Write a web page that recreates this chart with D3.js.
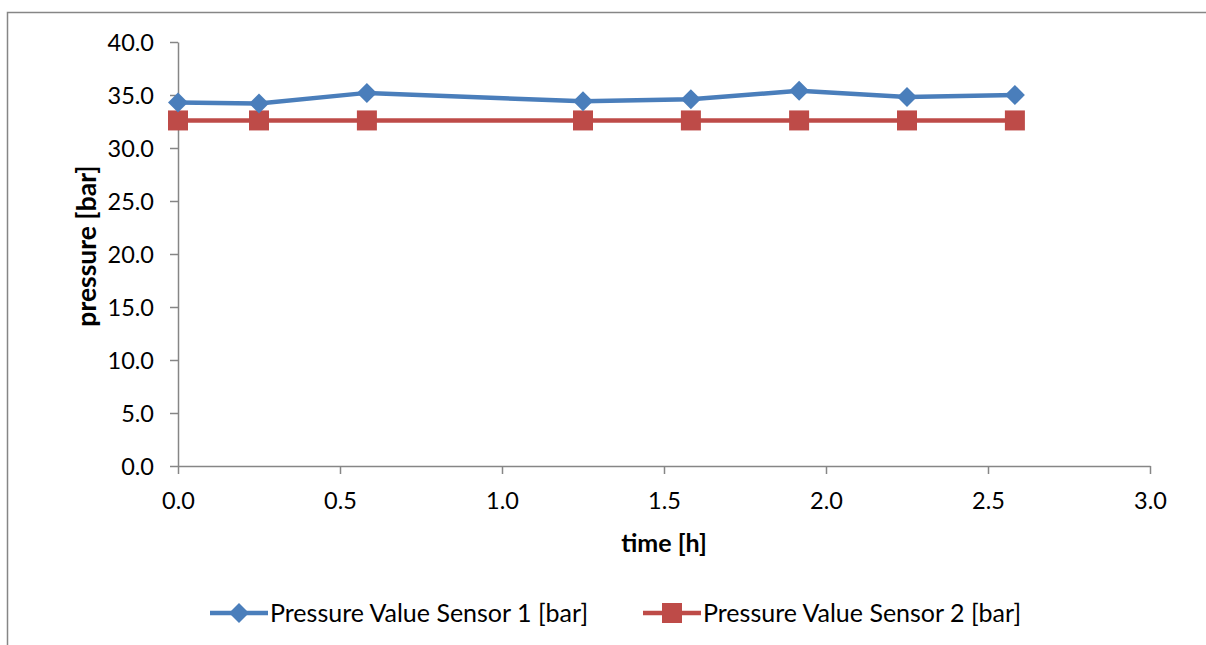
<!DOCTYPE html>
<html><head><meta charset="utf-8">
<script src="https://cdn.jsdelivr.net/npm/d3@7"></script>
<style>body{margin:0;background:#fff;} svg{display:block;font-family:Lato, "Open Sans", sans-serif;}</style>
</head><body>
<svg id="c" width="1206" height="645"></svg>
<script>
const times = [0, 0.25, 0.583, 1.25, 1.583, 1.917, 2.25, 2.583];
const sensor1 = [34.3, 34.2, 35.2, 34.4, 34.6, 35.4, 34.8, 35.0];
const sensor2 = [32.6, 32.6, 32.6, 32.6, 32.6, 32.6, 32.6, 32.6];
const seriesNames = ["Pressure Value Sensor 1 [bar]", "Pressure Value Sensor 2 [bar]"];
const xTicks = [0, 0.5, 1.0, 1.5, 2.0, 2.5, 3.0];
const yTicks = [0, 5, 10, 15, 20, 25, 30, 35, 40];
const xTitle = "time [h]";
const yTitle = "pressure [bar]";

const svg = d3.select("#c");
const axisCol = "#868686";
const blue = "#4A7EBB", red = "#BE4B48";

// outer frame
svg.append("path").attr("d","M7.5,645 V12.5 H1206").attr("fill","none").attr("stroke",axisCol).attr("stroke-width",1.5);

const x = d3.scaleLinear().domain([0,3]).range([178,1150]);
const y = d3.scaleLinear().domain([0,40]).range([466,42]);

const xa = svg.append("g").attr("transform","translate(0,466)")
  .call(d3.axisBottom(x).tickValues(xTicks).tickFormat(d3.format(".1f")).tickSize(8).tickSizeOuter(0));
const ya = svg.append("g").attr("transform","translate(178,0)")
  .call(d3.axisLeft(y).tickValues(yTicks).tickFormat(d3.format(".1f")).tickSize(8).tickSizeOuter(0));
[xa,ya].forEach(g=>{
  g.selectAll("path,line").attr("stroke",axisCol).attr("stroke-width",1.5);
  g.selectAll("text").attr("fill","#000").style("font-size","23.5px").style("font-family","Lato, sans-serif");
});
xa.selectAll("text").attr("y",26).attr("dy","0.71em");
ya.selectAll("text").attr("x",-24).attr("dy","0.36em");

svg.append("text").attr("x",664).attr("y",552).attr("text-anchor","middle")
  .style("font-size","25px").style("font-weight","bold").text(xTitle);
svg.append("text").attr("transform","translate(96,246) rotate(-90)").attr("text-anchor","middle")
  .style("font-size","26.5px").style("font-weight","bold").text(yTitle);

const line = d3.line().x(d=>x(d[0])).y(d=>y(d[1]));
const d1 = times.map((t,i)=>[t,sensor1[i]]);
const d2 = times.map((t,i)=>[t,sensor2[i]]);
const diamond = d3.symbol().type(d3.symbolSquare).size(200);

svg.append("path").datum(d2).attr("d",line).attr("fill","none").attr("stroke",red).attr("stroke-width",4.5);
svg.selectAll(".sq").data(d2).join("rect").attr("x",d=>x(d[0])-10).attr("y",d=>y(d[1])-10)
  .attr("width",20).attr("height",20).attr("fill",red);
svg.append("path").datum(d1).attr("d",line).attr("fill","none").attr("stroke",blue).attr("stroke-width",4.5);
svg.selectAll(".dm").data(d1).join("path").attr("d",diamond)
  .attr("transform",d=>`translate(${x(d[0])},${y(d[1])}) rotate(45)`).attr("fill",blue);

// legend
const leg = [{c:blue,x:210,shape:"d"},{c:red,x:643,shape:"s"}];
leg.forEach((l,i)=>{
  const g = svg.append("g");
  g.append("line").attr("x1",l.x).attr("x2",l.x+58).attr("y1",613).attr("y2",613).attr("stroke",l.c).attr("stroke-width",4.5);
  if(l.shape==="d"){
    g.append("path").attr("d",diamond).attr("transform",`translate(${l.x+29},613) rotate(45)`).attr("fill",l.c);
  } else {
    g.append("rect").attr("x",l.x+19).attr("y",603).attr("width",20).attr("height",20).attr("fill",l.c);
  }
  g.append("text").attr("x",l.x+60).attr("y",622).style("font-size","25px").text(seriesNames[i]);
});
</script>
</body></html>
